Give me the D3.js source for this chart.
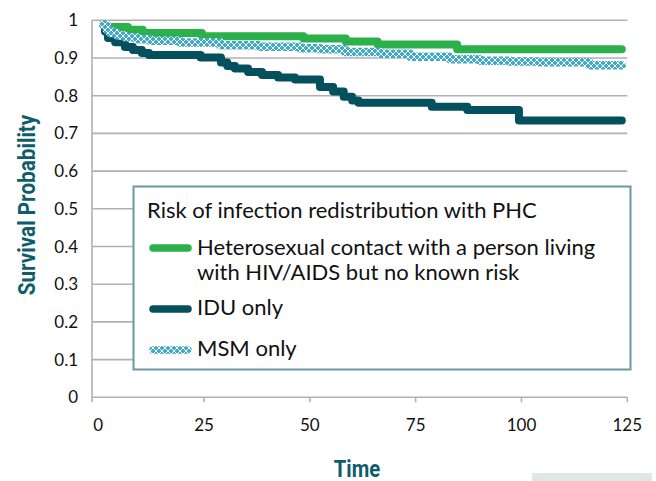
<!DOCTYPE html>
<html>
<head>
<meta charset="utf-8">
<script src="https://cdn.jsdelivr.net/npm/d3@7"></script>
<style>
  html, body { margin: 0; padding: 0; background: #fff; }
  svg { display: block; }
</style>
</head>
<body>
<div id="chart"></div>
<script>
// chart values
const timeTicks = [0, 25, 50, 75, 100, 125];
const probTicks = [0, 0.1, 0.2, 0.3, 0.4, 0.5, 0.6, 0.7, 0.8, 0.9, 1];
const probLabels = ["0", "0.1", "0.2", "0.3", "0.4", "0.5", "0.6", "0.7", "0.8", "0.9", "1"];

const seriesNames = [
  ["Heterosexual contact with a person living", "with HIV/AIDS but no known risk"],
  ["IDU only"],
  ["MSM only"]
];
const legendTitle = "Risk of infection redistribution with PHC";

const heteroTime = [2, 7, 10.5, 24.5, 48.5, 58.5, 66, 84.8, 123.7];
const heteroSurv = [0.982, 0.975, 0.966, 0.958, 0.952, 0.944, 0.936, 0.923, 0.923];

const iduTime = [1.2, 1.6, 2.3, 4, 6.3, 8.2, 10.3, 12, 24.2, 29, 30.5, 32.3, 35.4, 38.7, 42.5, 46.5,
  52.4, 55.5, 58, 60, 61.5, 78.8, 87.2, 99.4, 123.7];
const iduSurv = [0.988, 0.97, 0.953, 0.942, 0.929, 0.921, 0.913, 0.908, 0.901, 0.888, 0.879, 0.872, 0.863, 0.855, 0.848, 0.843,
  0.823, 0.811, 0.797, 0.787, 0.781, 0.771, 0.762, 0.734, 0.734];

const msmTime = [1.2, 2, 2.8, 4.5, 6.3, 9, 12.2, 19.3, 28.8, 38.2, 47.7, 52.4, 58.3, 66.6, 73.7, 83.1,
  90.2, 97.3, 104.4, 116, 123.7];
const msmSurv = [0.988, 0.975, 0.966, 0.96, 0.955, 0.95, 0.946, 0.941, 0.934, 0.93, 0.926, 0.923, 0.916, 0.911, 0.903, 0.897,
  0.893, 0.891, 0.889, 0.881, 0.881];

const width = 656;
const height = 481;

const green = "#2bb04a";
const dark = "#04505d";
const light = "#3fabcb";
const titleColor = "#0f5d6c";
const gridColor = "#b1b1b3";
const textFont = "Lato, 'Open Sans', sans-serif";

const x = d3.scaleLinear().domain([-1.47, 125]).range([92, 627.3]);
const y = d3.scaleLinear().domain([0, 1]).range([397.3, 20.3]);

const svg = d3.select("#chart").append("svg")
  .attr("width", width)
  .attr("height", height)
  .attr("viewBox", [0, 0, width, height]);

// crosshatch pattern for the MSM line
const defs = svg.append("defs");
const pat = defs.append("pattern")
  .attr("id", "hatch")
  .attr("patternUnits", "userSpaceOnUse")
  .attr("width", 6)
  .attr("height", 6);
pat.append("rect").attr("width", 6).attr("height", 6).attr("fill", light);
pat.append("path")
  .attr("d", "M0,3 L3,0 L6,3 L3,6 Z")
  .attr("fill", "none")
  .attr("stroke", "#fff")
  .attr("stroke-width", 1);

// gridlines
svg.append("g")
  .selectAll("line")
  .data(probTicks.filter((d) => d > 0))
  .join("line")
  .attr("x1", x.range()[0])
  .attr("x2", x.range()[1])
  .attr("y1", (d) => y(d))
  .attr("y2", (d) => y(d))
  .attr("stroke", gridColor)
  .attr("stroke-width", 1.6);

// x axis line + ticks
svg.append("line")
  .attr("x1", x.range()[0]).attr("x2", x.range()[1])
  .attr("y1", y(0)).attr("y2", y(0))
  .attr("stroke", gridColor).attr("stroke-width", 1.6);

svg.append("g")
  .selectAll("line")
  .data(timeTicks.filter((d) => d > 0))
  .join("line")
  .attr("x1", (d) => x(d)).attr("x2", (d) => x(d))
  .attr("y1", y(0)).attr("y2", y(0) + 5)
  .attr("stroke", gridColor).attr("stroke-width", 1.6);

// y axis line
svg.append("line")
  .attr("x1", x.range()[0]).attr("x2", x.range()[0])
  .attr("y1", y(1)).attr("y2", y(0) + 5)
  .attr("stroke", gridColor).attr("stroke-width", 1.6);

// tick labels
svg.append("g")
  .selectAll("text")
  .data(timeTicks)
  .join("text")
  .attr("x", (d) => x(d))
  .attr("y", 431)
  .attr("text-anchor", "middle")
  .attr("font-family", textFont)
  .attr("font-size", 17)
  .attr("fill", "#111")
  .text((d) => d);

svg.append("g")
  .selectAll("text")
  .data(probTicks)
  .join("text")
  .attr("x", 78)
  .attr("y", (d) => y(d) + 6)
  .attr("text-anchor", "end")
  .attr("font-family", textFont)
  .attr("font-size", 17)
  .attr("fill", "#111")
  .text((d, i) => probLabels[i]);

// axis titles (bold condensed look)
svg.append("text")
  .attr("transform", "translate(357,477) scale(0.88,1)")
  .attr("text-anchor", "middle")
  .attr("font-family", "Roboto, sans-serif")
  .attr("font-weight", "bold")
  .attr("font-size", 23)
  .attr("fill", titleColor)
  .text("Time");

svg.append("text")
  .attr("transform", "translate(35,205) rotate(-90) scale(0.9,1)")
  .attr("text-anchor", "middle")
  .attr("font-family", "Roboto, sans-serif")
  .attr("font-weight", "bold")
  .attr("font-size", 23)
  .attr("fill", titleColor)
  .text("Survival Probability");

// survival curves
const line = d3.line()
  .x((d) => x(d[0]))
  .y((d) => y(d[1]))
  .curve(d3.curveStepAfter);

const series = [
  { t: heteroTime, s: heteroSurv, stroke: green, w: 8 },
  { t: iduTime, s: iduSurv, stroke: dark, w: 8 },
  { t: msmTime, s: msmSurv, stroke: "url(#hatch)", w: 8.5 }
];

svg.append("g")
  .selectAll("path")
  .data(series)
  .join("path")
  .attr("d", (d) => line(d.t.map((t, i) => [t, d.s[i]])))
  .attr("fill", "none")
  .attr("stroke", (d) => d.stroke)
  .attr("stroke-width", (d) => d.w)
  .attr("stroke-linecap", "round")
  .attr("stroke-linejoin", "round");

// legend
const legend = svg.append("g");
legend.append("rect")
  .attr("x", 133.5).attr("y", 186.5)
  .attr("width", 497).attr("height", 183)
  .attr("fill", "#fff")
  .attr("stroke", "#6b97a2")
  .attr("stroke-width", 2);

legend.append("text")
  .attr("x", 147).attr("y", 218)
  .attr("font-family", textFont)
  .attr("font-size", 22)
  .attr("fill", "#111")
  .text(legendTitle);

const swatchY = [248, 309, 350];
const textY = [255, 315, 356];
const swatchStroke = [green, dark, "url(#hatch)"];

seriesNames.forEach((lines, i) => {
  legend.append("line")
    .attr("x1", 153).attr("x2", 188)
    .attr("y1", swatchY[i]).attr("y2", swatchY[i])
    .attr("stroke", swatchStroke[i])
    .attr("stroke-width", 7.5)
    .attr("stroke-linecap", "round");
  lines.forEach((txt, j) => {
    legend.append("text")
      .attr("x", 197).attr("y", textY[i] + j * 25)
      .attr("font-family", textFont)
      .attr("font-size", 22)
      .attr("fill", "#111")
      .text(txt);
  });
});

// small grey strip at the bottom right corner
svg.append("rect")
  .attr("x", 532).attr("y", 473)
  .attr("width", 120).attr("height", 8)
  .attr("fill", "#e1e6e8");
</script>
</body>
</html>
